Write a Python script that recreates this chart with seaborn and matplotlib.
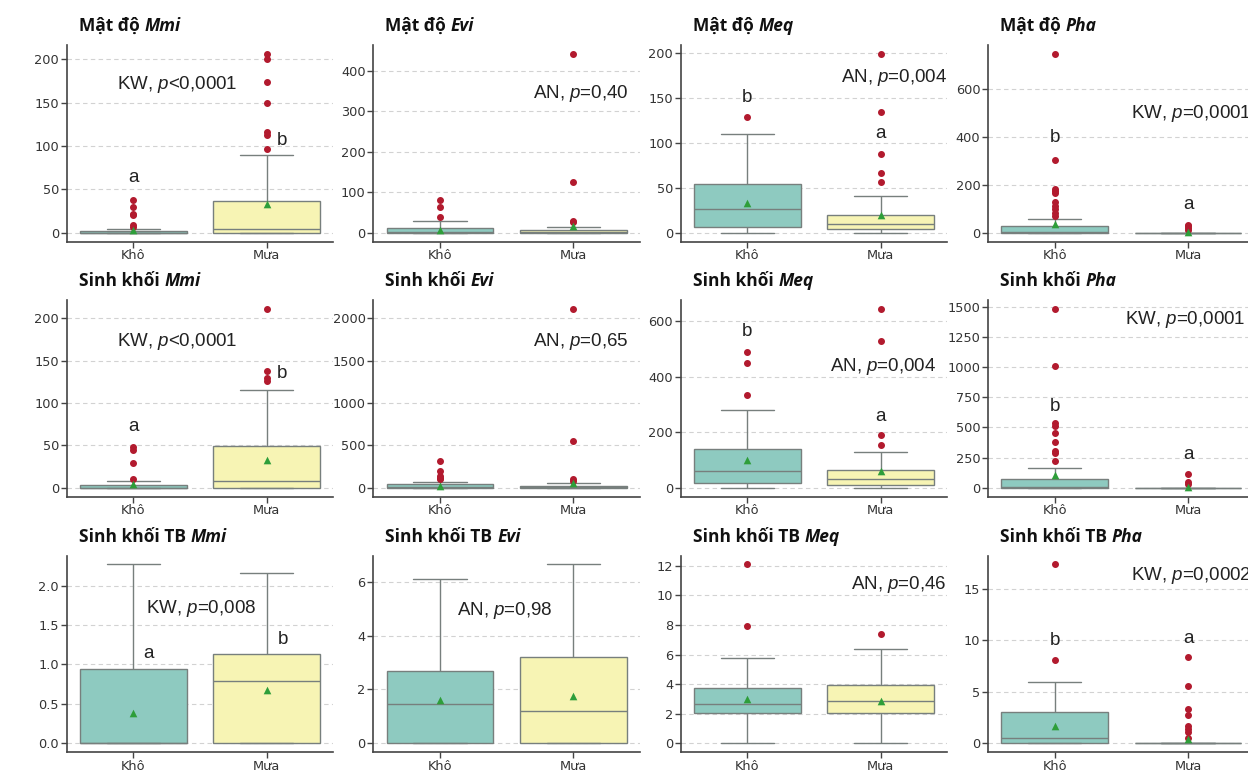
import matplotlib
matplotlib.use("Agg")
import matplotlib.pyplot as plt
import pandas as pd
import seaborn as sns

seasons = ["Khô", "Mưa"]
species = ["Mmi", "Evi", "Meq", "Pha"]
row_titles = ["Mật độ", "Sinh khối", "Sinh khối TB"]

dry_box = [
    [0, 0, 0, 2, 4.2], [0, 0, 2, 11.5, 28], [0, 6, 26.7, 54, 110], [0, 0, 2, 26.5, 55.7],
    [0, 0, 0, 3.1, 7.5], [0, 0, 10, 39, 63], [0, 18, 61, 139, 278], [0, 0, 5, 71.7, 162.7],
    [0, 0, 0, 0.947, 2.27], [0, 0, 1.45, 2.68, 6.11], [0, 2.05, 2.64, 3.77, 5.77], [0, 0, 0.49, 3.02, 6.0],
]
rain_box = [
    [0, 0, 4.6, 36.8, 89.7], [0, 0, 2, 7, 14], [0, 4, 9.3, 19.3, 40.4], [0, 0, 0, 0, 0],
    [0, 0, 7.9, 49.6, 115.7], [0, 0, 5, 24, 51], [0, 9.6, 31, 62.4, 130], [0, 0, 0, 0, 0],
    [0, 0, 0.79, 1.128, 2.16], [0, 0, 1.2, 3.2, 6.64], [0, 2.05, 2.89, 3.95, 6.4], [0, 0, 0, 0, 0],
]
dry_fliers = [
    [38, 30, 22, 20, 9, 7], [80, 63, 38], [129], [748, 305, 184, 174, 166, 128, 114, 100, 84, 70],
    [47.6, 44.9, 28.7, 10.2], [319, 197, 134, 110, 100], [487, 449, 335],
    [1483, 1006, 535, 513, 458, 383, 303, 287, 220],
    [], [], [12.1, 7.96], [17.4, 8.15],
]
rain_fliers = [
    [206, 200, 174, 150, 116, 113, 96], [441, 124, 30, 26], [199, 134, 88, 66, 56], [34, 27, 20, 12],
    [211, 138, 129, 126], [2110, 555, 102, 83], [643, 528, 191, 152], [110, 50, 33],
    [], [], [7.38], [8.44, 5.62, 3.34, 2.76, 1.66, 1.4, 1.14, 0.5],
]
dry_mean = [3, 7.4, 32.6, 37.6, 3.9, 24, 101, 105, 0.379, 1.6, 3.02, 1.66]
rain_mean = [32.6, 15.6, 19.3, 3, 32.3, 55, 62, 5, 0.68, 1.76, 2.86, 0.42]

tests = ["KW, $p$<0,0001", "AN, $p$=0,40", "AN, $p$=0,004", "KW, $p$=0,0001",
         "KW, $p$<0,0001", "AN, $p$=0,65", "AN, $p$=0,004", "KW, $p$=0,0001",
         "KW, $p$=0,008", "AN, $p$=0,98", "AN, $p$=0,46", "KW, $p$=0,0002"]
dry_letter = ["a", "", "b", "b", "a", "", "b", "b", "a", "", "", "b"]
rain_letter = ["b", "", "a", "a", "b", "", "a", "a", "b", "", "", "a"]

# where the texts sit (data coords, x = category position)
test_pos = [(-0.12, 165.5), (0.696, 332.6), (0.70, 168), (0.57, 480),
            (-0.12, 167), (0.696, 1669), (0.62, 421), (0.53, 1354),
            (0.093, 1.655), (0.13, 4.76), (0.775, 10.44), (0.57, 15.9)]
dry_letter_pos = [(0, 58), None, (0, 146), (0, 379), (0, 66.5), None, (0, 547), (0, 637),
                  (0.117, 1.08), None, None, (0, 9.6)]
rain_letter_pos = [(1.115, 101.5), None, (1, 106), (1, 100), (1.113, 129.5), None, (1, 241), (1, 237),
                   (1.12, 1.26), None, None, (1, 9.8)]

teal = "#8ecac0"
yellow = "#f7f4b4"
edge = "#777f7d"
red = "#b21a2e"
green = "#2e9e3a"

sns.set_style("ticks")
plt.rcParams["font.family"] = ["DejaVu Sans"]
plt.rcParams["mathtext.fontset"] = "custom"
plt.rcParams["mathtext.rm"] = "Liberation Sans"
plt.rcParams["mathtext.it"] = "Liberation Sans:italic"


def sample(box, fliers):
    lo, q1, med, q3, hi = box
    return [lo] + [q1] * 30 + [med] * 30 + [q3] * 30 + [hi] + list(fliers)


fig = plt.figure(figsize=(12.48, 7.73), dpi=100)
W, H = 1248, 773
col_left = [66.7, 373.3, 680.7, 988]
row_top = [45, 300, 555.5]
ax_w, ax_h = 266.7, 196.7

for i in range(12):
    r, c = divmod(i, 4)
    ax = fig.add_axes([col_left[c] / W, 1 - (row_top[r] + ax_h) / H, ax_w / W, ax_h / H])

    d = sample(dry_box[i], dry_fliers[i])
    m = sample(rain_box[i], rain_fliers[i])
    df = pd.DataFrame({"season": [seasons[0]] * len(d) + [seasons[1]] * len(m), "value": d + m})

    sns.boxplot(data=df, x="season", y="value", hue="season", order=seasons, hue_order=seasons,
                palette=[teal, yellow], saturation=1, width=0.8, linecolor=edge, linewidth=1,
                fliersize=4, flierprops=dict(marker="o", markerfacecolor=red, markeredgecolor=red),
                legend=False, ax=ax)
    sns.stripplot(x=seasons, y=[dry_mean[i], rain_mean[i]], order=seasons, color=green,
                  marker="^", size=5.5, jitter=False, ax=ax, zorder=5)

    ax.set_xlabel("")
    ax.set_ylabel("")
    ax.yaxis.grid(True, linestyle=(0, (4, 3)), color="#d2d2d2", linewidth=0.8)
    ax.set_axisbelow(True)
    sns.despine(ax=ax)
    for s in ["left", "bottom"]:
        ax.spines[s].set_color("#444444")
        ax.spines[s].set_linewidth(1.2)
    ax.tick_params(length=4, width=1, colors="#444444", labelsize=9.3, labelcolor="#333333", pad=1.5)

    t1 = ax.text(0.045, 1.05, row_titles[r], transform=ax.transAxes, fontsize=12.5,
                 family="Open Sans", fontweight="bold", va="bottom", ha="left", color="#111111")
    ax.annotate(species[c], xy=(1, 0), xycoords=t1, xytext=(3.5, 0), textcoords="offset points",
                fontsize=12.5, family="Open Sans", fontweight="bold", fontstyle="italic",
                va="bottom", ha="left", color="#111111")

    tx, ty = test_pos[i]
    ax.text(tx, ty, tests[i], fontsize=13.5, family="Liberation Sans", ha="left", va="baseline",
            color="#222222")
    if dry_letter_pos[i] is not None:
        ax.text(*dry_letter_pos[i], dry_letter[i], fontsize=13.5, family="Liberation Sans",
                ha="center", va="baseline", color="#222222")
    if rain_letter_pos[i] is not None:
        ax.text(*rain_letter_pos[i], rain_letter[i], fontsize=13.5, family="Liberation Sans",
                ha="center", va="baseline", color="#222222")

fig.savefig("out.png", dpi=100)
